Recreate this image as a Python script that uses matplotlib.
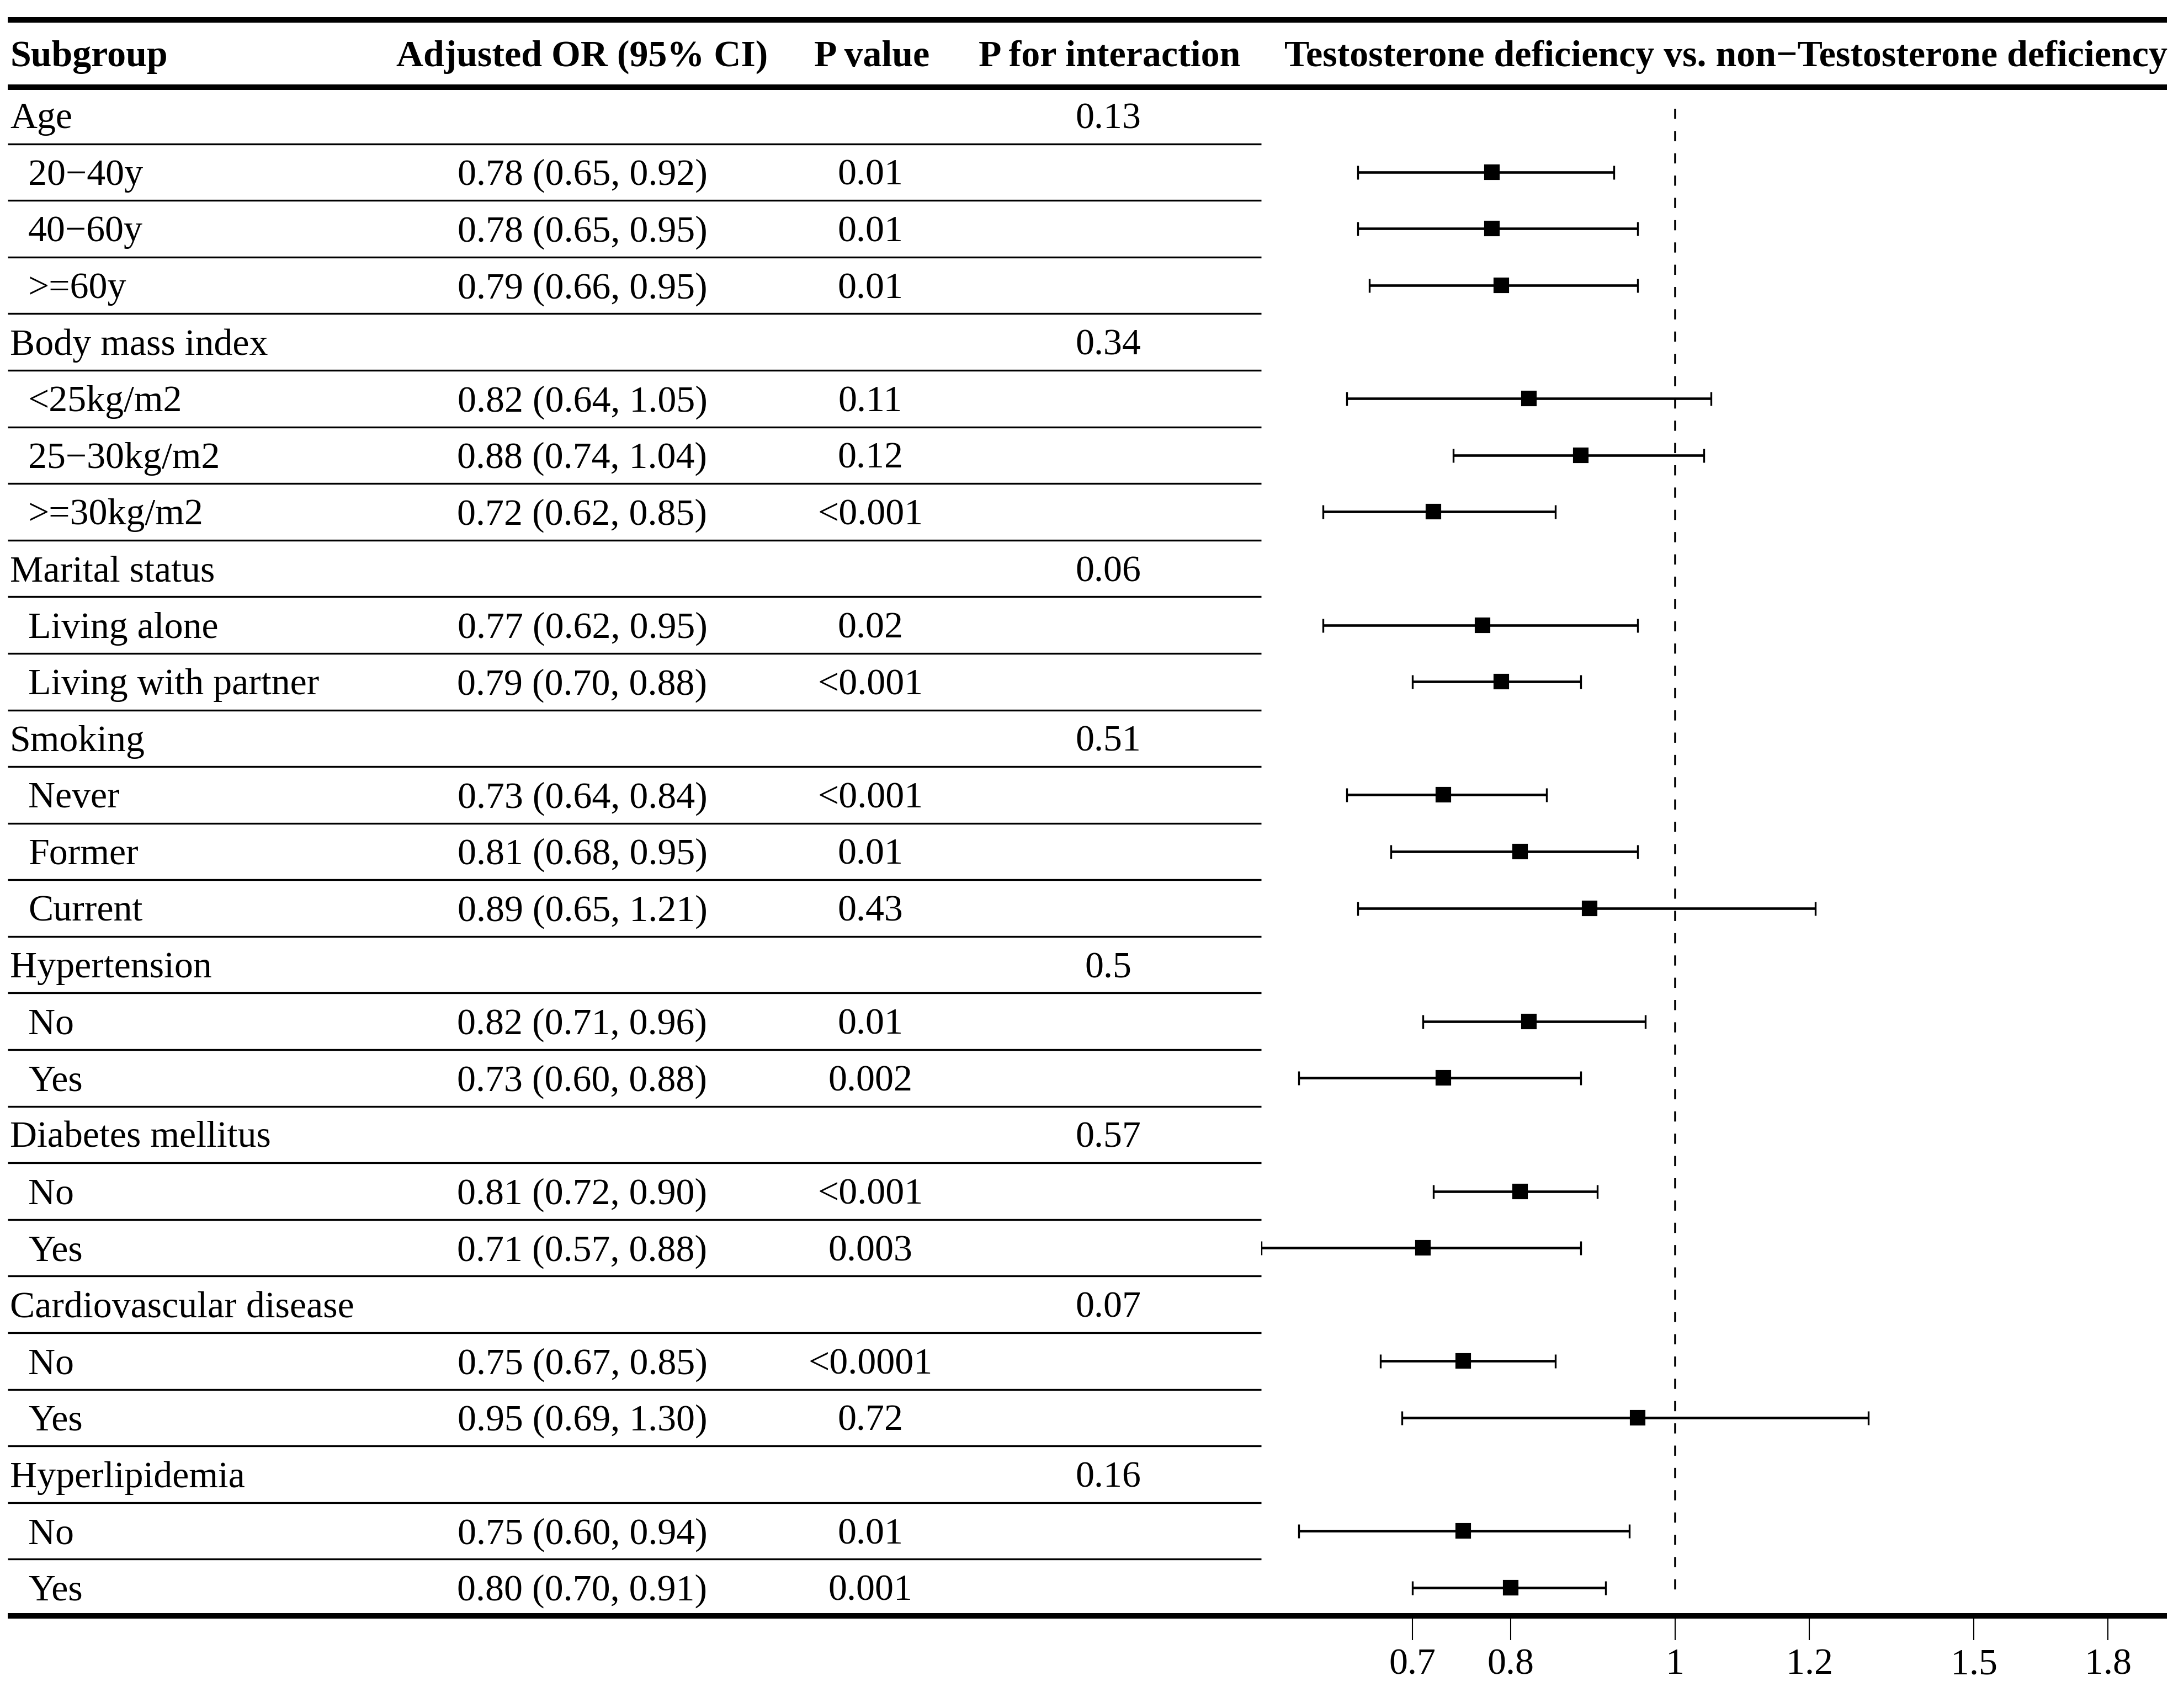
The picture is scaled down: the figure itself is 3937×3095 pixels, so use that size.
import matplotlib.pyplot as plt
import numpy as np

plt.rcParams['font.family'] = ['Liberation Serif', 'DejaVu Serif']

# data
groups = ["Age", "Body mass index", "Marital status", "Smoking", "Hypertension",
          "Diabetes mellitus", "Cardiovascular disease", "Hyperlipidemia"]
p_interaction = ["0.13", "0.34", "0.06", "0.51", "0.5", "0.57", "0.07", "0.16"]
group_sizes = [3, 3, 2, 3, 2, 2, 2, 2]

sub_labels = ["20\u221240y", "40\u221260y", ">=60y",
              "<25kg/m2", "25\u221230kg/m2", ">=30kg/m2",
              "Living alone", "Living with partner",
              "Never", "Former", "Current",
              "No", "Yes",
              "No", "Yes",
              "No", "Yes",
              "No", "Yes"]
or_vals = [0.78, 0.78, 0.79, 0.82, 0.88, 0.72, 0.77, 0.79, 0.73, 0.81, 0.89,
           0.82, 0.73, 0.81, 0.71, 0.75, 0.95, 0.75, 0.80]
ci_low = [0.65, 0.65, 0.66, 0.64, 0.74, 0.62, 0.62, 0.70, 0.64, 0.68, 0.65,
          0.71, 0.60, 0.72, 0.57, 0.67, 0.69, 0.60, 0.70]
ci_high = [0.92, 0.95, 0.95, 1.05, 1.04, 0.85, 0.95, 0.88, 0.84, 0.95, 1.21,
           0.96, 0.88, 0.90, 0.88, 0.85, 1.30, 0.94, 0.91]
p_vals = ["0.01", "0.01", "0.01", "0.11", "0.12", "<0.001", "0.02", "<0.001",
          "<0.001", "0.01", "0.43", "0.01", "0.002", "<0.001", "0.003",
          "<0.0001", "0.72", "0.01", "0.001"]

headers = ["Subgroup", "Adjusted OR (95% CI)", "P value", "P for interaction",
           "Testosterone deficiency vs. non\u2212Testosterone deficiency"]
x_ticks = [0.7, 0.8, 1, 1.2, 1.5, 1.8]
x_ticklabels = ["0.7", "0.8", "1", "1.2", "1.5", "1.8"]

# layout (pixels)
W, H = 3937, 3095
top_y, head_line_y, bottom_y = 36, 158, 2928
n_rows = sum(group_sizes) + len(groups)
row_h = (bottom_y - head_line_y) / n_rows
fs = 16.3
left_x, plot_x0, plot_x1 = 14, 2285, 3926

fig = plt.figure(figsize=(W / 300, H / 300), dpi=300)
bg = fig.add_axes([0, 0, 1, 1])
bg.set_xlim(0, W)
bg.set_ylim(H, 0)
bg.axis('off')

# header
bg.text(18, 120, headers[0], fontsize=fs, fontweight='bold', ha='left', va='baseline')
bg.text(1055, 120, headers[1], fontsize=fs, fontweight='bold', ha='center', va='baseline')
bg.text(1580, 120, headers[2], fontsize=fs, fontweight='bold', ha='center', va='baseline')
bg.text(2010, 120, headers[3], fontsize=fs, fontweight='bold', ha='center', va='baseline')
bg.text(3127, 120, headers[4], fontsize=fs, fontweight='bold', ha='center', va='baseline')

for yy in [top_y, head_line_y, bottom_y]:
    bg.plot([left_x, plot_x1], [yy, yy], color='black', lw=2.4, solid_capstyle='butt')

# table rows
row = 0
k = 0
plot_rows = []
for g, name in enumerate(groups):
    yb = head_line_y + (row + 0.5) * row_h + 23
    bg.text(18, yb, name, fontsize=fs, ha='left', va='baseline')
    bg.text(2008, yb, p_interaction[g], fontsize=fs, ha='center', va='baseline')
    row += 1
    for j in range(group_sizes[g]):
        yb = head_line_y + (row + 0.5) * row_h + 23
        bg.text(51, yb, sub_labels[k], fontsize=fs, ha='left', va='baseline')
        bg.text(1055, yb, f"{or_vals[k]:.2f} ({ci_low[k]:.2f}, {ci_high[k]:.2f})",
                fontsize=fs, ha='center', va='baseline')
        bg.text(1577, yb, p_vals[k], fontsize=fs, ha='center', va='baseline')
        plot_rows.append(row + 0.5)
        row += 1
        k += 1

for r in range(1, n_rows):
    yy = head_line_y + r * row_h
    bg.plot([left_x, plot_x0], [yy, yy], color='black', lw=0.8, solid_capstyle='butt')

# forest plot
ax = fig.add_axes([plot_x0 / W, 1 - bottom_y / H, (plot_x1 - plot_x0) / W,
                   (bottom_y - head_line_y) / H])
ax.patch.set_alpha(0)
ax.set_xscale('log')
ax.set_xlim(0.57, 1.95)
ax.set_ylim(n_rows, 0)

or_arr = np.array(or_vals)
xerr = [or_arr - np.array(ci_low), np.array(ci_high) - or_arr]
ax.errorbar(or_arr, plot_rows, xerr=xerr, fmt='s', ms=5.8, color='black',
            ecolor='black', elinewidth=1.1, capsize=3.0, capthick=0.8)
ax.vlines(1, 0.38, n_rows - 0.26, colors='black', lw=0.85,
          linestyles=(0, (5.2, 6.2)))

for s in ax.spines.values():
    s.set_visible(False)
ax.set_yticks([])
ax.set_xticks(x_ticks)
ax.set_xticklabels(x_ticklabels, fontsize=fs)
ax.xaxis.set_minor_locator(plt.NullLocator())
ax.tick_params(axis='x', length=10.5, width=0.5, pad=3.5, direction='out')

fig.savefig('out.png', dpi=300)
